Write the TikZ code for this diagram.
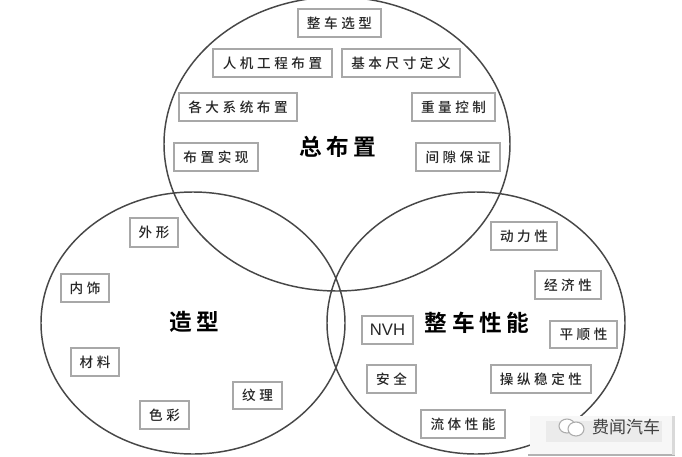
\documentclass[tikz,border=0pt]{standalone}
\usepackage{fontspec}
\newfontfamily\cjk[LetterSpace=26]{Noto Sans CJK SC Medium}
\newfontfamily\cjktitle[LetterSpace=20]{Noto Sans CJK SC Bold}
\newfontfamily\cjkplain{Noto Sans CJK SC}
\newfontfamily\latinf{Liberation Sans}
\definecolor{ringc}{gray}{0.28}
\definecolor{boxc}{gray}{0.66}
\definecolor{txtc}{gray}{0.15}
\tikzset{
  x=0.75pt,y=-0.75pt,
  ring/.style={draw=ringc,line width=1.1pt},
  tag/.style={draw=boxc,line width=0.9pt,fill=white,text=txtc,inner sep=0pt,anchor=center,font=\cjk\fontsize{10.2}{12}\selectfont},
  heading/.style={text=black,inner sep=0pt,font=\cjktitle\fontsize{17}{20}\selectfont},
}
\newcommand{\tagbox}[6]{% name, x0,y0,x1,y1,text
  \node[tag,minimum width=(#4-#2)*0.75pt,minimum height=(#5-#3)*0.75pt] (#1) at ({(#2+#4)/2},{(#3+#5)/2}) {#6};}
\begin{document}
\begin{tikzpicture}
\useasboundingbox (0,0) rectangle (682,457);
\fill[white] (0,0) rectangle (682,457);
\draw[ring] (337,144) ellipse [x radius=173,y radius=147];
\draw[ring] (193,323) ellipse [x radius=152,y radius=131];
\draw[ring] (476,323) ellipse [x radius=149,y radius=131];
\tagbox{a1}{298}{9}{381}{37}{整车选型}
\tagbox{a2}{213}{49}{332}{77}{人机工程布置}
\tagbox{a3}{342}{49}{460}{77}{基本尺寸定义}
\tagbox{a4}{179}{93}{297}{121}{各大系统布置}
\tagbox{a5}{412}{93}{495}{121}{重量控制}
\tagbox{a6}{174}{143}{258}{171}{布置实现}
\tagbox{a7}{416}{143}{500}{171}{间隙保证}
\tagbox{b1}{130}{218}{178}{247}{外形}
\tagbox{b2}{61}{274}{109}{302}{内饰}
\tagbox{b3}{71}{348}{119}{376}{材料}
\tagbox{b4}{140}{401}{189}{429}{色彩}
\tagbox{b5}{233}{382}{282}{409}{纹理}
\tagbox{c1}{491}{222}{557}{250}{动力性}
\tagbox{c2}{535}{271}{601}{299}{经济性}
\tagbox{c3}{550}{321}{617}{348}{平顺性}
\tagbox{c4}{362}{316}{413}{344}{\latinf\fontsize{12.5}{14}\selectfont NVH}
\tagbox{c5}{367}{365}{416}{393}{安全}
\tagbox{c6}{491}{365}{591}{393}{操纵稳定性}
\tagbox{c7}{421}{410}{505}{438}{流体性能}
\node[heading] (t1) at (338,147) {总布置};
\node[heading] (t2) at (194,322) {造型};
\node[heading] (t3) at (477,323) {整车性能};
% watermark
\fill[gray!6] (530,416) rectangle (675,455);
\fill[gray!16] (546,421) rectangle (662,442);
\fill[gray!60] (528,454) rectangle (675,456);
\fill[gray!30] (672,416) rectangle (675,455);
\draw[gray!65,line width=0.8pt,fill=white] (567,426) ellipse [x radius=8,y radius=7];
\draw[gray!65,line width=0.8pt,fill=white] (576,429) ellipse [x radius=8,y radius=7];
\node[text=gray!50!black,inner sep=0pt,font=\cjkplain\fontsize{12.75}{15}\selectfont] (wm) at (626,427) {费闻汽车};
\end{tikzpicture}
\end{document}
